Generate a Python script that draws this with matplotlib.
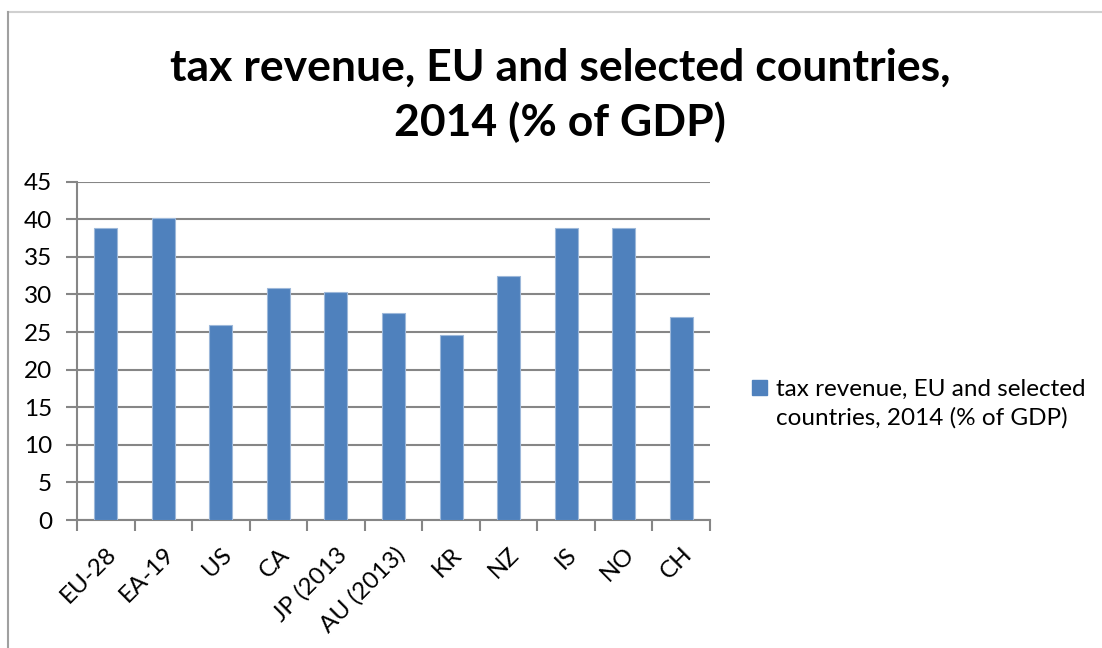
import numpy as np
import matplotlib
matplotlib.use("Agg")
import matplotlib.pyplot as plt
from matplotlib.lines import Line2D

countries = ["EU-28", "EA-19", "US", "CA", "JP (2013", "AU (2013)", "KR", "NZ", "IS", "NO", "CH"]
tax_revenue = [38.8, 40.2, 25.9, 30.8, 30.3, 27.5, 24.6, 32.4, 38.9, 38.9, 27.0]
yticks = np.arange(0, 46, 5)
series_lines = ["tax revenue, EU and selected", "countries, 2014 (% of GDP)"]
title = "tax revenue, EU and selected countries,\n2014 (% of GDP)"

plt.rcParams['font.family'] = ['Lato', 'DejaVu Sans']
grid_col = "#868686"
bar_col = "#4F81BD"

fig = plt.figure(figsize=(11.02, 6.48), dpi=100)
ax = fig.add_axes([0.0699, 0.1975, 0.5744, 0.5221])

x = np.arange(len(countries))
ax.bar(x, tax_revenue, width=0.4, color=bar_col, edgecolor="#9DB8DA", linewidth=0.8, zorder=3)

ax.set_xlim(-0.5, len(countries) - 0.5)
ax.set_ylim(0, 45)
ax.set_yticks(yticks)
ax.set_yticklabels([str(v) for v in yticks], fontsize=17.5)
ax.yaxis.grid(True, color=grid_col, linewidth=1.5, zorder=0)

# category labels at centers, tick marks at boundaries
ax.set_xticks(x)
ax.set_xticklabels(countries, rotation=45, ha="right", rotation_mode="anchor", fontsize=17.5)
ax.set_xticks(np.arange(-0.5, len(countries)), minor=True)
ax.tick_params(axis="x", which="major", length=0, pad=17)
ax.tick_params(axis="x", which="minor", length=8, width=1.5, color=grid_col)
ax.tick_params(axis="y", length=8, width=1.5, color=grid_col, pad=10)

for side in ["top", "right"]:
    ax.spines[side].set_visible(False)
for side in ["left", "bottom"]:
    ax.spines[side].set_color(grid_col)
    ax.spines[side].set_linewidth(1.5)

fig.text(0.508, 0.853, title, ha="center", va="center", fontsize=32, fontweight="bold",
         linespacing=1.4)

# legend: series swatch beside the first line, second line without a swatch
handle = plt.Rectangle((0, 0), 1, 1, color=bar_col)
blank = plt.Rectangle((0, 0), 1, 1, color="none")
fig.legend([handle, blank], series_lines, loc="center left", bbox_to_anchor=(0.6735, 0.377),
           frameon=False, fontsize=17.5, handlelength=0.6, handleheight=0.6,
           handletextpad=0.4, borderaxespad=0, labelspacing=0.3)

# chart frame
fig.add_artist(Line2D([0.0075, 1.0], [0.9815, 0.9815], color="#D0D0D0", linewidth=1.5))
fig.add_artist(Line2D([0.0075, 0.0075], [0.0, 0.9815], color="#A0A0A0", linewidth=1.5))

plt.savefig("out.png", dpi=100)
